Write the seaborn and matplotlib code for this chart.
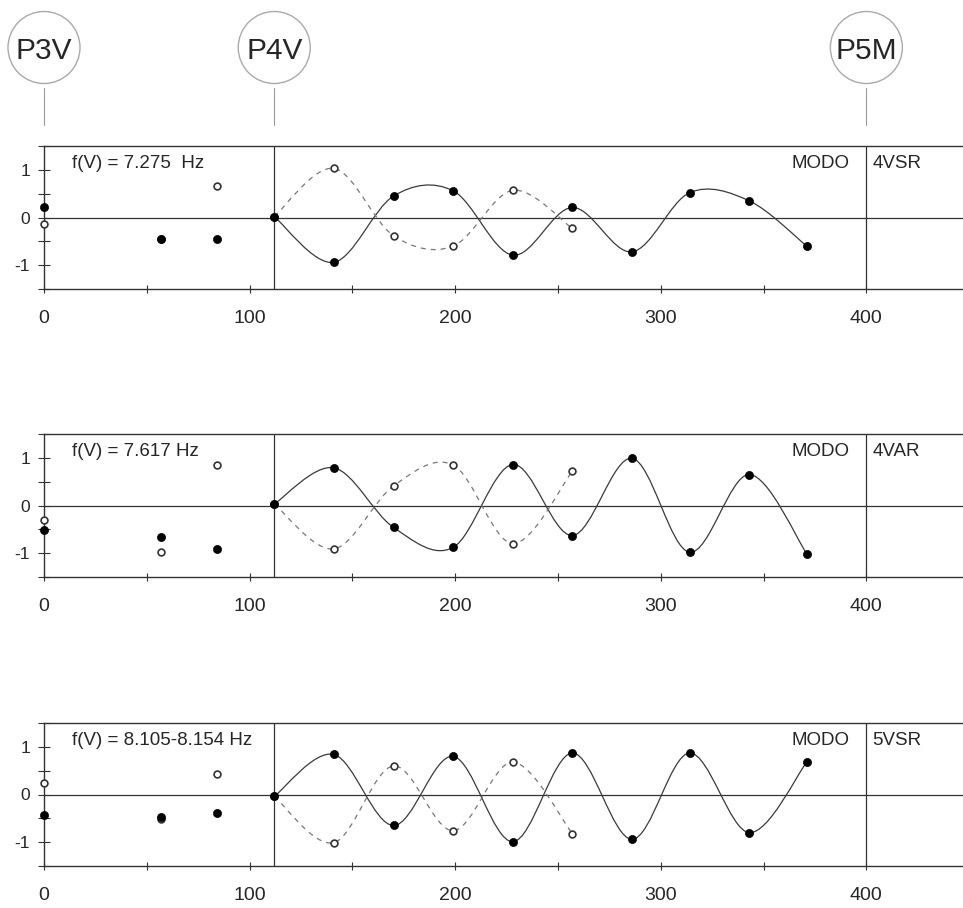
import numpy as np
import pandas as pd
import matplotlib
matplotlib.use("Agg")
import matplotlib.pyplot as plt
from matplotlib.path import Path
from matplotlib.patches import PathPatch, Ellipse
import seaborn as sns

# ---------------------------------------------------------------
# data
# ---------------------------------------------------------------
station_x = [0, 57, 84, 112, 141, 170, 199, 228, 257, 286, 314, 343, 371]

pier_names = ["P3V", "P4V", "P5M"]
pier_x = [0, 112, 400]

mode_names = ["4VSR", "4VAR", "5VSR"]
mode_freqs = ["f(V) = 7.275  Hz", "f(V) = 7.617 Hz", "f(V) = 8.105-8.154 Hz"]

# filled dots + solid curve (all stations)
solid_4vsr = [0.23, -0.45, -0.45, 0.02, -0.94, 0.45, 0.56, -0.79, 0.21, -0.72, 0.52, 0.35, -0.60]
solid_4var = [-0.51, -0.67, -0.92, 0.03, 0.79, -0.46, -0.88, 0.86, -0.63, 0.99, -0.98, 0.65, -1.01]
solid_5vsr = [-0.42, -0.47, -0.38, -0.04, 0.84, -0.65, 0.80, -0.99, 0.87, -0.94, 0.87, -0.80, 0.68]

# open dots + dashed curve (first 9 stations)
dashed_4vsr = [-0.13, -0.45, 0.66, 0.02, 1.03, -0.38, -0.60, 0.57, -0.23]
dashed_4var = [-0.30, -0.98, 0.86, 0.03, -0.91, 0.41, 0.85, -0.80, 0.72]
dashed_5vsr = [0.25, -0.51, 0.42, -0.04, -1.01, 0.60, -0.76, 0.68, -0.82]

curve_start = 3  # curves begin at the P4V station

solid_all = [solid_4vsr, solid_4var, solid_5vsr]
dashed_all = [dashed_4vsr, dashed_4var, dashed_5vsr]

# ---------------------------------------------------------------
# style
# ---------------------------------------------------------------
sns.set_style("white")
plt.rcParams["font.family"] = ["Liberation Sans", "DejaVu Sans"]
plt.rcParams["axes.unicode_minus"] = False

W, H = 963, 908
fig = plt.figure(figsize=(W / 100, H / 100), dpi=100)

XMAX = 447
left = 44 / W
width = (W - 44) / W
panel_tops = [146, 434, 723]
panel_h = 143


def smooth_path(xs, ys):
    # smoothed line through the points (bezier, catmull-rom handles)
    pts = np.column_stack([xs, ys]).astype(float)
    ext = np.vstack([pts[0], pts, pts[-1]])
    verts = [pts[0]]
    codes = [Path.MOVETO]
    for i in range(len(pts) - 1):
        p0, p1, p2, p3 = ext[i], ext[i + 1], ext[i + 2], ext[i + 3]
        verts += [p1 + (p2 - p0) / 6, p2 - (p3 - p1) / 6, p2]
        codes += [Path.CURVE4] * 3
    return Path(verts, codes)


for k in range(3):
    top = panel_tops[k]
    ax = fig.add_axes([left, 1 - (top + panel_h) / H, width, panel_h / H])
    ax.set_xlim(0, XMAX)
    ax.set_ylim(-1.5, 1.5)

    sol = solid_all[k]
    das = dashed_all[k]
    xs_d = station_x[:len(das)]

    # curves
    ax.add_patch(PathPatch(smooth_path(station_x[curve_start:], sol[curve_start:]),
                           facecolor="none", edgecolor="#3a3a3a", lw=0.9, zorder=2))
    ax.add_patch(PathPatch(smooth_path(xs_d[curve_start:], das[curve_start:]),
                           facecolor="none", edgecolor="#777777", lw=0.9,
                           linestyle=(0, (4, 4)), zorder=2))

    # reference lines
    ax.axhline(0, color="#333333", lw=0.9, zorder=1)
    for px in pier_x[1:]:
        ax.axvline(px, color="#333333", lw=0.9, zorder=1)

    # markers
    df_open = pd.DataFrame({"x": xs_d, "y": das})
    df_fill = pd.DataFrame({"x": station_x, "y": sol})
    sns.scatterplot(data=df_open, x="x", y="y", ax=ax, color="white",
                    edgecolor="#333333", linewidth=1.2, s=24, zorder=3, clip_on=False)
    sns.scatterplot(data=df_fill, x="x", y="y", ax=ax, color="black",
                    edgecolor="black", linewidth=0.5, s=34, zorder=4, clip_on=False)

    # texts
    ax.text(13.5, 1.13, mode_freqs[k], fontsize=13.5, va="center", ha="left")
    ax.text(392, 1.13, "MODO", fontsize=13.5, va="center", ha="right")
    ax.text(403, 1.13, mode_names[k], fontsize=13.5, va="center", ha="left")

    # axes
    ax.set_xlabel("")
    ax.set_ylabel("")
    ax.set_xticks([0, 100, 200, 300, 400])
    ax.set_xticks([50, 150, 250, 350], minor=True)
    ax.set_yticks([-1, 0, 1])
    ax.set_yticklabels(["-1", "0", "1"])
    ax.set_yticks([-1.5, -0.5, 0.5, 1.5], minor=True)
    ax.tick_params(axis="x", which="both", direction="inout", length=6,
                   width=0.8, color="#333333", labelsize=14, pad=12)
    ax.tick_params(axis="y", which="both", direction="inout", length=8,
                   width=0.8, color="#333333", labelsize=12.5, pad=6)
    ax.tick_params(bottom=True, left=True, which="both")
    for side in ["left", "top", "bottom"]:
        ax.spines[side].set_color("#333333")
        ax.spines[side].set_linewidth(1.0)
    ax.spines["right"].set_visible(False)

# ---------------------------------------------------------------
# pier markers above the first panel
# ---------------------------------------------------------------
axc = fig.add_axes([left, 1 - 146 / H, width, 146 / H])
axc.set_xlim(0, XMAX)
axc.set_ylim(146, 0)
axc.axis("off")
px_per_unit = (W - 44) / XMAX
r = 36
for name, px in zip(pier_names, pier_x):
    axc.add_patch(Ellipse((px, 47.5), 2 * r / px_per_unit, 2 * r,
                          facecolor="none", edgecolor="#aaaaaa", lw=1.0, clip_on=False))
    axc.text(px, 51, name, fontsize=21.5, ha="center", va="center", clip_on=False)
    axc.plot([px, px], [88, 125], color="#999999", lw=0.8, clip_on=False)

fig.savefig("out.png", dpi=100)
